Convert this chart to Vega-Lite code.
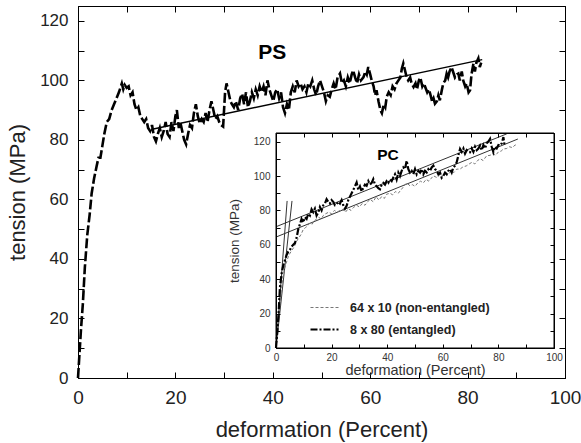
{
  "$schema": "https://vega.github.io/schema/vega-lite/v6.json",
  "width": 487,
  "height": 372,
  "autosize": {"type": "none"},
  "padding": {"left": 78, "top": 6, "right": 16, "bottom": 65},
  "config": {
    "font": "Liberation Sans",
    "view": {"stroke": "black", "strokeWidth": 1},
    "axis": {"grid": false, "labelFlush": false, "labelOverlap": false, "domainColor": "black", "tickColor": "black", "labelColor": "#222", "titleColor": "#222", "titleFontWeight": "normal"}
  },
  "datasets": {
    "ps": [
      {"x":0,"y":0},{"x":0.3,"y":8},{"x":0.6,"y":16},{"x":1.0,"y":25},{"x":1.4,"y":37},{"x":1.9,"y":48},{"x":2.4,"y":55},{"x":2.8,"y":62},{"x":3.3,"y":67},{"x":3.8,"y":71},{"x":4.2,"y":74},{"x":4.6,"y":74},{"x":5.0,"y":78},{"x":5.4,"y":82},{"x":5.9,"y":86},{"x":6.4,"y":87},{"x":6.9,"y":90},{"x":7.4,"y":92},{"x":7.9,"y":94},{"x":8.4,"y":96},{"x":8.8,"y":98},{"x":9.0,"y":99},{"x":9.3,"y":97},{"x":9.6,"y":98.5},{"x":10.0,"y":97.5},{"x":10.4,"y":98},{"x":10.8,"y":95},{"x":11.2,"y":96},{"x":11.6,"y":92},{"x":12.0,"y":90},{"x":12.4,"y":91},{"x":12.8,"y":88},{"x":13.2,"y":87},{"x":13.6,"y":86},{"x":14.0,"y":87},{"x":14.4,"y":84},{"x":14.8,"y":83},{"x":15.2,"y":85},{"x":15.6,"y":81},{"x":16.0,"y":79.5},{"x":16.4,"y":82},{"x":16.8,"y":84},{"x":17.2,"y":81},{"x":17.6,"y":83},{"x":18.0,"y":86},{"x":18.4,"y":82},{"x":18.8,"y":81},{"x":19.2,"y":86},{"x":19.6,"y":83},{"x":20.0,"y":88},{"x":20.3,"y":90},{"x":20.7,"y":84},{"x":21.0,"y":86},{"x":21.4,"y":83},{"x":21.8,"y":80},{"x":22.2,"y":78.5},{"x":22.6,"y":82},{"x":23.0,"y":85},{"x":23.4,"y":84},{"x":23.8,"y":89},{"x":24.2,"y":92},{"x":24.6,"y":88},{"x":25.0,"y":85.5},{"x":25.4,"y":87},{"x":25.8,"y":86},{"x":26.2,"y":89},{"x":26.6,"y":86},{"x":27.0,"y":90},{"x":27.4,"y":93},{"x":27.8,"y":90},{"x":28.2,"y":87},{"x":28.6,"y":88},{"x":29.0,"y":86},{"x":29.4,"y":85},{"x":29.8,"y":84.5},{"x":30.2,"y":96},{"x":30.5,"y":99},{"x":30.9,"y":96},{"x":31.3,"y":93},{"x":31.6,"y":92},{"x":32.0,"y":91},{"x":32.4,"y":93},{"x":32.9,"y":90},{"x":33.3,"y":94},{"x":33.7,"y":95.5},{"x":34.1,"y":92},{"x":34.5,"y":96},{"x":34.9,"y":91},{"x":35.3,"y":93},{"x":35.7,"y":96},{"x":36.1,"y":94},{"x":36.5,"y":97},{"x":36.9,"y":95},{"x":37.3,"y":98},{"x":37.7,"y":96},{"x":38.1,"y":98},{"x":38.5,"y":95},{"x":38.9,"y":100},{"x":39.3,"y":97},{"x":39.7,"y":95},{"x":40.1,"y":93},{"x":40.5,"y":96},{"x":40.9,"y":97},{"x":41.3,"y":94},{"x":41.7,"y":96},{"x":42.1,"y":91},{"x":42.5,"y":89},{"x":42.9,"y":92},{"x":43.3,"y":90},{"x":43.7,"y":96},{"x":44.1,"y":98},{"x":44.5,"y":96},{"x":44.9,"y":100},{"x":45.3,"y":98},{"x":45.7,"y":99},{"x":46.1,"y":97},{"x":46.5,"y":98},{"x":46.9,"y":96},{"x":47.3,"y":99},{"x":47.7,"y":98},{"x":48.1,"y":100},{"x":48.5,"y":97},{"x":48.9,"y":95},{"x":49.3,"y":98},{"x":49.7,"y":100},{"x":50.1,"y":98},{"x":50.5,"y":96},{"x":50.9,"y":93},{"x":51.3,"y":95},{"x":51.7,"y":94.5},{"x":52.1,"y":97},{"x":52.5,"y":99},{"x":52.9,"y":97},{"x":53.3,"y":101},{"x":53.8,"y":102.3},{"x":54.2,"y":99},{"x":54.6,"y":100},{"x":55.0,"y":98},{"x":55.4,"y":101},{"x":55.8,"y":99},{"x":56.2,"y":102},{"x":56.5,"y":103.4},{"x":56.9,"y":101},{"x":57.3,"y":99},{"x":57.7,"y":102},{"x":58.1,"y":100},{"x":58.6,"y":101},{"x":59.0,"y":103},{"x":59.3,"y":102},{"x":59.6,"y":104.5},{"x":60.0,"y":102},{"x":60.3,"y":100},{"x":60.7,"y":98},{"x":61.0,"y":95},{"x":61.3,"y":96.7},{"x":61.7,"y":93},{"x":62.1,"y":90},{"x":62.4,"y":89},{"x":62.8,"y":92},{"x":63.1,"y":91},{"x":63.4,"y":94.5},{"x":63.8,"y":96},{"x":64.2,"y":95},{"x":64.6,"y":98},{"x":65.0,"y":97},{"x":65.4,"y":99},{"x":65.8,"y":100},{"x":66.2,"y":101},{"x":66.5,"y":104},{"x":66.8,"y":105.7},{"x":67.2,"y":103},{"x":67.5,"y":101},{"x":67.8,"y":100},{"x":68.2,"y":101},{"x":68.5,"y":99},{"x":68.9,"y":97.8},{"x":69.3,"y":99},{"x":69.6,"y":97},{"x":70.0,"y":100},{"x":70.3,"y":101},{"x":70.7,"y":98},{"x":71.0,"y":99},{"x":71.3,"y":97.8},{"x":71.7,"y":96},{"x":72.0,"y":97},{"x":72.3,"y":95.6},{"x":72.7,"y":93},{"x":73.0,"y":94},{"x":73.3,"y":92.2},{"x":73.7,"y":93},{"x":74.0,"y":95},{"x":74.3,"y":93.3},{"x":74.7,"y":96.7},{"x":75.0,"y":99},{"x":75.4,"y":100},{"x":75.7,"y":102.3},{"x":76.0,"y":101},{"x":76.3,"y":103},{"x":76.7,"y":104.5},{"x":77.0,"y":103},{"x":77.4,"y":101},{"x":77.8,"y":102},{"x":78.1,"y":102.3},{"x":78.4,"y":100},{"x":78.8,"y":103},{"x":79.1,"y":100},{"x":79.5,"y":98},{"x":79.8,"y":99},{"x":80.2,"y":96},{"x":80.5,"y":96.7},{"x":80.8,"y":102},{"x":81.2,"y":105.7},{"x":81.5,"y":103},{"x":81.8,"y":106},{"x":82.2,"y":107.4},{"x":82.5,"y":104.5},{"x":82.8,"y":106}
    ],
    "psfit": [{"x":15,"y":83.5},{"x":83,"y":107}],
    "pslabel": [{"x":39.9,"y":109.3,"t":"PS"}],
    "pc": [
      {"s":"64 x 10 (non-entangled)","x":0,"y":0},{"s":"64 x 10 (non-entangled)","x":0.5,"y":8},{"s":"64 x 10 (non-entangled)","x":1.0,"y":18},{"s":"64 x 10 (non-entangled)","x":1.5,"y":27},{"s":"64 x 10 (non-entangled)","x":2.0,"y":35},{"s":"64 x 10 (non-entangled)","x":2.6,"y":42},{"s":"64 x 10 (non-entangled)","x":3.2,"y":47},{"s":"64 x 10 (non-entangled)","x":3.8,"y":50},{"s":"64 x 10 (non-entangled)","x":4.4,"y":53},{"s":"64 x 10 (non-entangled)","x":5.0,"y":55},{"s":"64 x 10 (non-entangled)","x":5.8,"y":57},{"s":"64 x 10 (non-entangled)","x":6.6,"y":59},{"s":"64 x 10 (non-entangled)","x":7.4,"y":62},{"s":"64 x 10 (non-entangled)","x":8.2,"y":64},{"s":"64 x 10 (non-entangled)","x":9.0,"y":66},{"s":"64 x 10 (non-entangled)","x":9.8,"y":68.9},{"s":"64 x 10 (non-entangled)","x":10.6,"y":70},{"s":"64 x 10 (non-entangled)","x":11.4,"y":71},{"s":"64 x 10 (non-entangled)","x":12.2,"y":72.8},{"s":"64 x 10 (non-entangled)","x":13.0,"y":72},{"s":"64 x 10 (non-entangled)","x":13.8,"y":74},{"s":"64 x 10 (non-entangled)","x":14.6,"y":75},{"s":"64 x 10 (non-entangled)","x":15.4,"y":76},{"s":"64 x 10 (non-entangled)","x":16.2,"y":75},{"s":"64 x 10 (non-entangled)","x":17.0,"y":77},{"s":"64 x 10 (non-entangled)","x":17.8,"y":78},{"s":"64 x 10 (non-entangled)","x":19.0,"y":79},{"s":"64 x 10 (non-entangled)","x":20.0,"y":78},{"s":"64 x 10 (non-entangled)","x":21.0,"y":80},{"s":"64 x 10 (non-entangled)","x":22.0,"y":79},{"s":"64 x 10 (non-entangled)","x":23.0,"y":80},{"s":"64 x 10 (non-entangled)","x":24.0,"y":80.5},{"s":"64 x 10 (non-entangled)","x":25.0,"y":79},{"s":"64 x 10 (non-entangled)","x":26.0,"y":81},{"s":"64 x 10 (non-entangled)","x":27.0,"y":80},{"s":"64 x 10 (non-entangled)","x":27.8,"y":81.6},{"s":"64 x 10 (non-entangled)","x":29.0,"y":83},{"s":"64 x 10 (non-entangled)","x":30.0,"y":82},{"s":"64 x 10 (non-entangled)","x":31.0,"y":84},{"s":"64 x 10 (non-entangled)","x":32.0,"y":83},{"s":"64 x 10 (non-entangled)","x":33.0,"y":85},{"s":"64 x 10 (non-entangled)","x":33.8,"y":86.5},{"s":"64 x 10 (non-entangled)","x":35.0,"y":85},{"s":"64 x 10 (non-entangled)","x":36.0,"y":88},{"s":"64 x 10 (non-entangled)","x":37.0,"y":86},{"s":"64 x 10 (non-entangled)","x":38.0,"y":88},{"s":"64 x 10 (non-entangled)","x":39.0,"y":87},{"s":"64 x 10 (non-entangled)","x":39.8,"y":89.4},{"s":"64 x 10 (non-entangled)","x":41.0,"y":90},{"s":"64 x 10 (non-entangled)","x":42.0,"y":89},{"s":"64 x 10 (non-entangled)","x":43.0,"y":91},{"s":"64 x 10 (non-entangled)","x":44.0,"y":90},{"s":"64 x 10 (non-entangled)","x":45.0,"y":92},{"s":"64 x 10 (non-entangled)","x":46.0,"y":94},{"s":"64 x 10 (non-entangled)","x":47.0,"y":96},{"s":"64 x 10 (non-entangled)","x":48.2,"y":94.3},{"s":"64 x 10 (non-entangled)","x":49.0,"y":95},{"s":"64 x 10 (non-entangled)","x":50.0,"y":94},{"s":"64 x 10 (non-entangled)","x":51.0,"y":96},{"s":"64 x 10 (non-entangled)","x":52.0,"y":97},{"s":"64 x 10 (non-entangled)","x":53.0,"y":96},{"s":"64 x 10 (non-entangled)","x":54.0,"y":98},{"s":"64 x 10 (non-entangled)","x":55.0,"y":97},{"s":"64 x 10 (non-entangled)","x":56.6,"y":100.1},{"s":"64 x 10 (non-entangled)","x":58.0,"y":99},{"s":"64 x 10 (non-entangled)","x":59.0,"y":101},{"s":"64 x 10 (non-entangled)","x":60.0,"y":100},{"s":"64 x 10 (non-entangled)","x":61.0,"y":102},{"s":"64 x 10 (non-entangled)","x":62.0,"y":101},{"s":"64 x 10 (non-entangled)","x":63.0,"y":103},{"s":"64 x 10 (non-entangled)","x":64.0,"y":102},{"s":"64 x 10 (non-entangled)","x":65.0,"y":104},{"s":"64 x 10 (non-entangled)","x":66.2,"y":104},{"s":"64 x 10 (non-entangled)","x":67.0,"y":105},{"s":"64 x 10 (non-entangled)","x":68.6,"y":106},{"s":"64 x 10 (non-entangled)","x":69.5,"y":107},{"s":"64 x 10 (non-entangled)","x":70.5,"y":108},{"s":"64 x 10 (non-entangled)","x":71.5,"y":107},{"s":"64 x 10 (non-entangled)","x":72.5,"y":109},{"s":"64 x 10 (non-entangled)","x":73.5,"y":110},{"s":"64 x 10 (non-entangled)","x":74.5,"y":109},{"s":"64 x 10 (non-entangled)","x":75.8,"y":111.8},{"s":"64 x 10 (non-entangled)","x":77.0,"y":112},{"s":"64 x 10 (non-entangled)","x":78.0,"y":113},{"s":"64 x 10 (non-entangled)","x":79.0,"y":112},{"s":"64 x 10 (non-entangled)","x":80.0,"y":114},{"s":"64 x 10 (non-entangled)","x":81.0,"y":114.5},{"s":"64 x 10 (non-entangled)","x":81.8,"y":115.7},{"s":"64 x 10 (non-entangled)","x":83.0,"y":116},{"s":"64 x 10 (non-entangled)","x":84.0,"y":117},{"s":"64 x 10 (non-entangled)","x":85.0,"y":116.5},{"s":"64 x 10 (non-entangled)","x":86.0,"y":118},{"s":"64 x 10 (non-entangled)","x":86.6,"y":118.1},
      {"s":"8 x 80 (entangled)","x":0,"y":0},{"s":"8 x 80 (entangled)","x":0.5,"y":10},{"s":"8 x 80 (entangled)","x":1.0,"y":22},{"s":"8 x 80 (entangled)","x":1.4,"y":35},{"s":"8 x 80 (entangled)","x":2.0,"y":43},{"s":"8 x 80 (entangled)","x":2.6,"y":48},{"s":"8 x 80 (entangled)","x":3.2,"y":51},{"s":"8 x 80 (entangled)","x":3.8,"y":54},{"s":"8 x 80 (entangled)","x":4.4,"y":56},{"s":"8 x 80 (entangled)","x":5.0,"y":57},{"s":"8 x 80 (entangled)","x":5.6,"y":59},{"s":"8 x 80 (entangled)","x":6.2,"y":60},{"s":"8 x 80 (entangled)","x":6.8,"y":61},{"s":"8 x 80 (entangled)","x":7.4,"y":64},{"s":"8 x 80 (entangled)","x":8.0,"y":69},{"s":"8 x 80 (entangled)","x":8.6,"y":72},{"s":"8 x 80 (entangled)","x":9.2,"y":75},{"s":"8 x 80 (entangled)","x":9.8,"y":73},{"s":"8 x 80 (entangled)","x":10.4,"y":76},{"s":"8 x 80 (entangled)","x":11.0,"y":75},{"s":"8 x 80 (entangled)","x":11.6,"y":78},{"s":"8 x 80 (entangled)","x":12.2,"y":77},{"s":"8 x 80 (entangled)","x":12.8,"y":80.6},{"s":"8 x 80 (entangled)","x":13.4,"y":79},{"s":"8 x 80 (entangled)","x":14.0,"y":81},{"s":"8 x 80 (entangled)","x":14.6,"y":77},{"s":"8 x 80 (entangled)","x":15.2,"y":78.7},{"s":"8 x 80 (entangled)","x":15.8,"y":82},{"s":"8 x 80 (entangled)","x":16.4,"y":80},{"s":"8 x 80 (entangled)","x":17.0,"y":83},{"s":"8 x 80 (entangled)","x":17.6,"y":84},{"s":"8 x 80 (entangled)","x":18.2,"y":86.5},{"s":"8 x 80 (entangled)","x":18.8,"y":85},{"s":"8 x 80 (entangled)","x":19.4,"y":84},{"s":"8 x 80 (entangled)","x":20.0,"y":86},{"s":"8 x 80 (entangled)","x":20.6,"y":85},{"s":"8 x 80 (entangled)","x":21.2,"y":83},{"s":"8 x 80 (entangled)","x":21.8,"y":83.5},{"s":"8 x 80 (entangled)","x":22.4,"y":85},{"s":"8 x 80 (entangled)","x":23.0,"y":84},{"s":"8 x 80 (entangled)","x":23.6,"y":86},{"s":"8 x 80 (entangled)","x":24.2,"y":83},{"s":"8 x 80 (entangled)","x":24.8,"y":81},{"s":"8 x 80 (entangled)","x":25.4,"y":82.6},{"s":"8 x 80 (entangled)","x":26.0,"y":86},{"s":"8 x 80 (entangled)","x":26.6,"y":88},{"s":"8 x 80 (entangled)","x":27.2,"y":90},{"s":"8 x 80 (entangled)","x":27.8,"y":92},{"s":"8 x 80 (entangled)","x":28.4,"y":94},{"s":"8 x 80 (entangled)","x":29.0,"y":96.2},{"s":"8 x 80 (entangled)","x":29.6,"y":92},{"s":"8 x 80 (entangled)","x":30.2,"y":94},{"s":"8 x 80 (entangled)","x":30.8,"y":91},{"s":"8 x 80 (entangled)","x":31.4,"y":93},{"s":"8 x 80 (entangled)","x":32.0,"y":95},{"s":"8 x 80 (entangled)","x":32.6,"y":94.3},{"s":"8 x 80 (entangled)","x":33.2,"y":97},{"s":"8 x 80 (entangled)","x":33.8,"y":95},{"s":"8 x 80 (entangled)","x":34.4,"y":96},{"s":"8 x 80 (entangled)","x":35.0,"y":98.2},{"s":"8 x 80 (entangled)","x":35.6,"y":95},{"s":"8 x 80 (entangled)","x":36.2,"y":94},{"s":"8 x 80 (entangled)","x":36.8,"y":93},{"s":"8 x 80 (entangled)","x":37.4,"y":92.3},{"s":"8 x 80 (entangled)","x":38.0,"y":95},{"s":"8 x 80 (entangled)","x":38.6,"y":96},{"s":"8 x 80 (entangled)","x":39.2,"y":95},{"s":"8 x 80 (entangled)","x":39.8,"y":97},{"s":"8 x 80 (entangled)","x":40.4,"y":96},{"s":"8 x 80 (entangled)","x":41.0,"y":98},{"s":"8 x 80 (entangled)","x":41.6,"y":97},{"s":"8 x 80 (entangled)","x":42.2,"y":99.2},{"s":"8 x 80 (entangled)","x":42.8,"y":101},{"s":"8 x 80 (entangled)","x":43.4,"y":98},{"s":"8 x 80 (entangled)","x":44.0,"y":102},{"s":"8 x 80 (entangled)","x":44.6,"y":100},{"s":"8 x 80 (entangled)","x":45.2,"y":103},{"s":"8 x 80 (entangled)","x":45.8,"y":105},{"s":"8 x 80 (entangled)","x":46.4,"y":104},{"s":"8 x 80 (entangled)","x":47.0,"y":108.9},{"s":"8 x 80 (entangled)","x":47.6,"y":104},{"s":"8 x 80 (entangled)","x":48.2,"y":102},{"s":"8 x 80 (entangled)","x":48.8,"y":103},{"s":"8 x 80 (entangled)","x":49.4,"y":101.1},{"s":"8 x 80 (entangled)","x":50.0,"y":104},{"s":"8 x 80 (entangled)","x":50.6,"y":101},{"s":"8 x 80 (entangled)","x":51.2,"y":103},{"s":"8 x 80 (entangled)","x":51.8,"y":102},{"s":"8 x 80 (entangled)","x":52.4,"y":104},{"s":"8 x 80 (entangled)","x":53.0,"y":101},{"s":"8 x 80 (entangled)","x":53.6,"y":103},{"s":"8 x 80 (entangled)","x":54.2,"y":102.1},{"s":"8 x 80 (entangled)","x":54.8,"y":104},{"s":"8 x 80 (entangled)","x":55.4,"y":103},{"s":"8 x 80 (entangled)","x":56.0,"y":105},{"s":"8 x 80 (entangled)","x":56.6,"y":106},{"s":"8 x 80 (entangled)","x":57.2,"y":104},{"s":"8 x 80 (entangled)","x":57.8,"y":103},{"s":"8 x 80 (entangled)","x":58.4,"y":101},{"s":"8 x 80 (entangled)","x":59.0,"y":102},{"s":"8 x 80 (entangled)","x":59.6,"y":99},{"s":"8 x 80 (entangled)","x":60.2,"y":100.1},{"s":"8 x 80 (entangled)","x":60.8,"y":102},{"s":"8 x 80 (entangled)","x":61.4,"y":101},{"s":"8 x 80 (entangled)","x":62.0,"y":103},{"s":"8 x 80 (entangled)","x":62.6,"y":104},{"s":"8 x 80 (entangled)","x":63.2,"y":102},{"s":"8 x 80 (entangled)","x":63.8,"y":105},{"s":"8 x 80 (entangled)","x":64.4,"y":106},{"s":"8 x 80 (entangled)","x":65.0,"y":108},{"s":"8 x 80 (entangled)","x":65.6,"y":112},{"s":"8 x 80 (entangled)","x":66.2,"y":115.7},{"s":"8 x 80 (entangled)","x":66.8,"y":114},{"s":"8 x 80 (entangled)","x":67.4,"y":116},{"s":"8 x 80 (entangled)","x":68.0,"y":113},{"s":"8 x 80 (entangled)","x":68.6,"y":115},{"s":"8 x 80 (entangled)","x":69.2,"y":114},{"s":"8 x 80 (entangled)","x":69.8,"y":113.8},{"s":"8 x 80 (entangled)","x":70.4,"y":116},{"s":"8 x 80 (entangled)","x":71.0,"y":114},{"s":"8 x 80 (entangled)","x":71.6,"y":117},{"s":"8 x 80 (entangled)","x":72.2,"y":115},{"s":"8 x 80 (entangled)","x":72.8,"y":116},{"s":"8 x 80 (entangled)","x":73.4,"y":117.7},{"s":"8 x 80 (entangled)","x":74.0,"y":115},{"s":"8 x 80 (entangled)","x":74.6,"y":118},{"s":"8 x 80 (entangled)","x":75.2,"y":116},{"s":"8 x 80 (entangled)","x":75.8,"y":119},{"s":"8 x 80 (entangled)","x":76.4,"y":120},{"s":"8 x 80 (entangled)","x":77.0,"y":121.6},{"s":"8 x 80 (entangled)","x":77.6,"y":117},{"s":"8 x 80 (entangled)","x":78.2,"y":113.8},{"s":"8 x 80 (entangled)","x":78.8,"y":117},{"s":"8 x 80 (entangled)","x":79.4,"y":116},{"s":"8 x 80 (entangled)","x":80.0,"y":118},{"s":"8 x 80 (entangled)","x":80.6,"y":117.7},{"s":"8 x 80 (entangled)","x":81.2,"y":119},{"s":"8 x 80 (entangled)","x":81.8,"y":122.6},{"s":"8 x 80 (entangled)","x":82.2,"y":118}
    ],
    "pcfit": [
      {"f":"a","x":0,"y":70.5},{"f":"a","x":83,"y":124.5},
      {"f":"b","x":0,"y":64.5},{"f":"b","x":87,"y":121.5},
      {"f":"c","x":0,"y":0},{"f":"c","x":4.0,"y":85.5},
      {"f":"d","x":0,"y":0},{"f":"d","x":5.75,"y":85.5}
    ],
    "pcbox": [{"x":0,"x2":100,"y":0,"y2":125}],
    "pclabel": [{"x":40.3,"y":112.4,"t":"PC"}]
  },
  "layer": [
    {
      "encoding": {
        "x": {"field": "x", "type": "quantitative", "scale": {"domain": [0, 100], "nice": false},
          "axis": {"orient": "bottom", "values": [0,10,20,30,40,50,60,70,80,90,100], "labelExpr": "datum.value % 20 === 0 ? datum.label : ''", "tickSize": -6, "labelPadding": 16, "labelFontSize": 19, "title": "deformation (Percent)", "titleFontSize": 22, "titlePadding": 12}},
        "y": {"field": "y", "type": "quantitative", "scale": {"domain": [0, 125], "nice": false},
          "axis": {"orient": "left", "values": [0,10,20,30,40,50,60,70,80,90,100,110,120], "labelExpr": "datum.value % 20 === 0 ? datum.label : ''", "tickSize": -6, "labelPadding": 16, "labelFontSize": 17, "title": "tension (MPa)", "titleFontSize": 22, "titlePadding": 10}}
      },
      "layer": [
        {"data": {"name": "ps"}, "mark": {"type": "line", "color": "black", "strokeWidth": 2.6, "strokeDash": [10, 3]}},
        {"data": {"name": "psfit"}, "mark": {"type": "line", "color": "black", "strokeWidth": 1.4}},
        {"data": {"name": "pslabel"}, "mark": {"type": "text", "fontSize": 21, "fontWeight": "bold", "color": "black"}, "encoding": {"text": {"field": "t"}}}
      ]
    },
    {
      "encoding": {
        "x": {"field": "x", "type": "quantitative", "scale": {"domain": [0, 100], "nice": false},
          "axis": {"orient": "top", "values": [0,10,20,30,40,50,60,70,80,90,100], "labels": false, "tickSize": -6, "title": null}},
        "y": {"field": "y", "type": "quantitative", "scale": {"domain": [0, 125], "nice": false},
          "axis": {"orient": "right", "values": [0,10,20,30,40,50,60,70,80,90,100,110,120], "labels": false, "tickSize": -6, "title": null}}
      },
      "layer": [
        {"data": {"name": "psfit"}, "mark": {"type": "point", "opacity": 0}}
      ]
    },
    {
      "encoding": {
        "x": {"field": "x", "type": "quantitative", "scale": {"domain": [0, 100], "nice": false, "range": [198, 476]},
          "axis": {"orient": "bottom", "offset": -30, "zindex": 1, "values": [0,10,20,30,40,50,60,70,80,90,100], "labelExpr": "datum.value % 20 === 0 ? datum.label : ''", "tickSize": -4, "labelPadding": 8, "labelFontSize": 10, "labelColor": "#333", "title": "deformation (Percent)", "titleFontSize": 14.5, "titlePadding": 1, "titleColor": "#333"}},
        "y": {"field": "y", "type": "quantitative", "scale": {"domain": [0, 125], "nice": false, "range": [342, 127]},
          "axis": {"orient": "left", "offset": -198, "zindex": 1, "values": [0,10,20,30,40,50,60,70,80,90,100,110,120], "labelExpr": "datum.value % 20 === 0 ? datum.label : ''", "tickSize": -4, "labelPadding": 10, "labelFontSize": 10, "labelColor": "#333", "title": "tension (MPa)", "titleFontSize": 13.5, "titlePadding": 12, "titleColor": "#333"}}
      },
      "layer": [
        {"data": {"name": "pcbox"}, "mark": {"type": "rect", "fill": "white", "stroke": "black", "strokeWidth": 1}, "encoding": {"x2": {"field": "x2"}, "y2": {"field": "y2"}}},
        {"data": {"name": "pcfit"}, "mark": {"type": "line", "color": "#333", "strokeWidth": 1}, "encoding": {"detail": {"field": "f"}}},
        {"data": {"name": "pc"}, "mark": {"type": "line"},
          "encoding": {
            "color": {"field": "s", "type": "ordinal", "scale": {"domain": ["64 x 10 (non-entangled)", "8 x 80 (entangled)"], "range": ["#777777", "#000000"]},
              "legend": {"orient": "none", "legendX": 231, "legendY": 287, "title": null, "symbolType": "stroke", "symbolSize": 784, "labelFontSize": 12.5, "labelFontWeight": "bold", "labelColor": "#222", "labelOffset": 10, "rowPadding": 0}},
            "strokeDash": {"field": "s", "type": "ordinal", "scale": {"domain": ["64 x 10 (non-entangled)", "8 x 80 (entangled)"], "range": [[3, 2], [7, 2, 2, 2]]}},
            "strokeWidth": {"field": "s", "type": "ordinal", "scale": {"domain": ["64 x 10 (non-entangled)", "8 x 80 (entangled)"], "range": [1, 2.2]}}
          }},
        {"data": {"name": "pclabel"}, "mark": {"type": "text", "fontSize": 15.5, "fontWeight": "bold", "color": "black"}, "encoding": {"text": {"field": "t"}}}
      ]
    },
    {
      "encoding": {
        "x": {"field": "x", "type": "quantitative", "scale": {"domain": [0, 100], "nice": false, "range": [198, 476]},
          "axis": {"orient": "top", "offset": -127, "zindex": 1, "values": [0,10,20,30,40,50,60,70,80,90,100], "labels": false, "tickSize": -4, "title": null}},
        "y": {"field": "y", "type": "quantitative", "scale": {"domain": [0, 125], "nice": false, "range": [342, 127]},
          "axis": {"orient": "right", "offset": -11, "zindex": 1, "values": [0,10,20,30,40,50,60,70,80,90,100,110,120], "labels": false, "tickSize": -4, "title": null}}
      },
      "layer": [
        {"data": {"name": "pcbox"}, "mark": {"type": "point", "opacity": 0}}
      ]
    }
  ],
  "resolve": {"scale": {"x": "independent", "y": "independent"}, "axis": {"x": "independent", "y": "independent"}}
}
